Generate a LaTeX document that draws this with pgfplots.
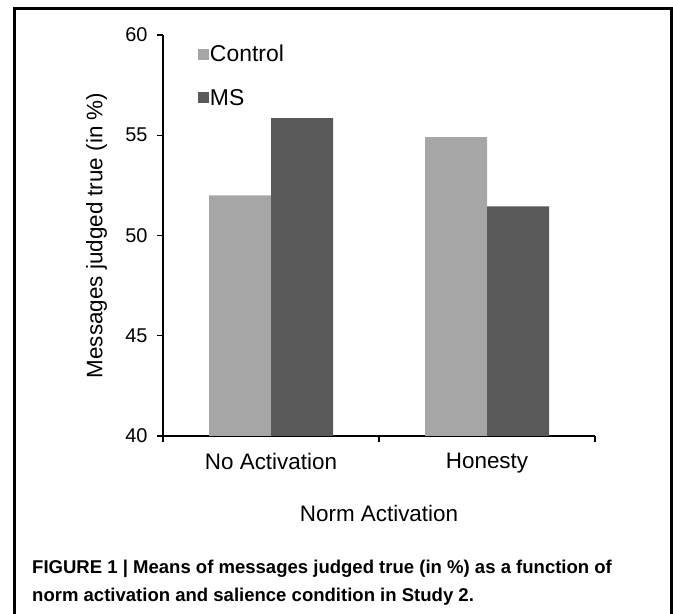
\documentclass[border=0pt]{standalone}
\usepackage{fontspec}
\setmainfont{Liberation Sans}
\usepackage{pgfplots}
\pgfplotsset{compat=1.18}
\definecolor{ctrl}{HTML}{A6A6A6}
\definecolor{ms}{HTML}{595959}
\begin{document}
\begin{tikzpicture}[x=1bp,y=1bp]
\useasboundingbox (0,0) rectangle (673,614);
\draw[line width=3bp] (14,-2) -- (14,605) -- (671,605) -- (671,-2);
\begin{axis}[
  at={(163bp,178bp)}, anchor=south west,
  scale only axis, width=432bp, height=401bp,
  xmin=-0.5, xmax=1.5, ymin=40, ymax=60,
  axis lines*=left,
  axis line style={-, line width=1.4bp, black},
  /pgf/number format/assume math mode=true,
  ybar=0pt, bar width=62bp,
  ytick={40,45,50,55,60},
  tick align=outside,
  major tick length=6bp,
  tick style={line width=1.4bp, black},
  y tick label style={font=\fontsize{20}{24}\selectfont, xshift=-6bp},
  xtick={-0.5,0.5,1.5}, xticklabels={},
  extra x ticks={0,1},
  extra x tick labels={No Activation,Honesty},
  extra x tick style={major tick length=0pt, tick label style={font=\fontsize{22.5}{26}\selectfont, yshift=-14bp}},
  xlabel={Norm Activation},
  xlabel style={font=\fontsize{22.5}{26}\selectfont, at={(axis description cs:0.5,0)}, anchor=north, yshift=-66bp},
  ylabel={Messages judged true (in \%)},
  ylabel style={font=\fontsize{22.5}{26}\selectfont, at={(axis description cs:-0.154,0.5)}, anchor=center},
  legend cell align=left,
  legend style={draw=none, fill=none, inner sep=0pt, outer sep=0pt,
    at={(axis description cs:0.081,0.9776)}, anchor=north west,
    font=\fontsize{23}{27}\selectfont, row sep=24bp,
    nodes={inner sep=1bp},
    /tikz/every even column/.append style={column sep=3bp}},
]
\addplot[fill=ctrl, draw=none, legend image code/.code={\fill[ctrl] (0bp,-5.5bp) rectangle (11bp,5.5bp);}] coordinates {(0,52.0) (1,54.9)};
\addplot[fill=ms, draw=none, legend image code/.code={\fill[ms] (0bp,-5.5bp) rectangle (11bp,5.5bp);}] coordinates {(0,55.85) (1,51.45)};
\legend{Control,MS}
\end{axis}
\node[anchor=base west, inner sep=0pt, font=\fontsize{18.6}{22}\selectfont\bfseries] at (32,40.4) {FIGURE 1 | Means of messages judged true (in \%) as a function of};
\node[anchor=base west, inner sep=0pt, font=\fontsize{18.6}{22}\selectfont\bfseries] at (32,12.5) {norm activation and salience condition in Study 2.};
\end{tikzpicture}
\end{document}
